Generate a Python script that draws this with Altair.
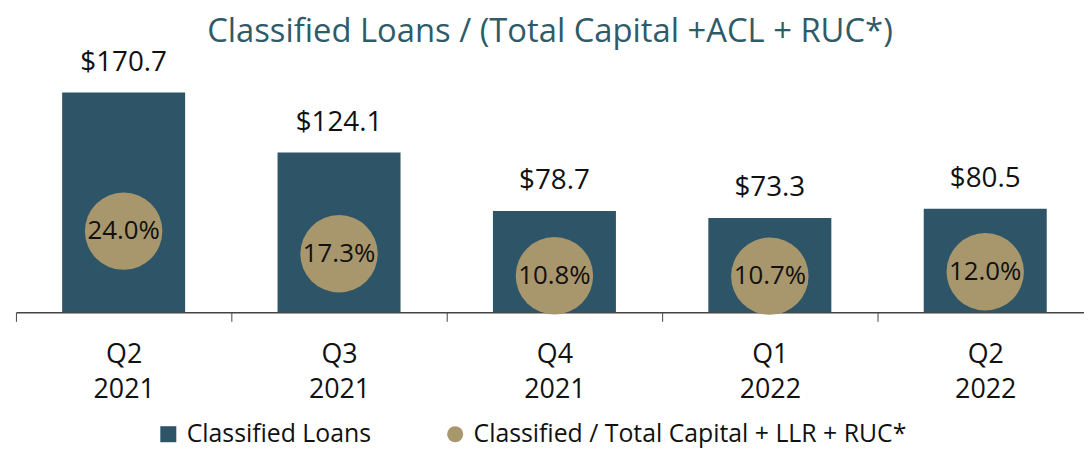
import altair as alt
import pandas as pd

quarters = ["Q2\n2021", "Q3\n2021", "Q4\n2021", "Q1\n2022", "Q2\n2022"]
loans = [170.7, 124.1, 78.7, 73.3, 80.5]
ratio = [24.0, 17.3, 10.8, 10.7, 12.0]
series_bar = "Classified Loans"
series_pt = "Classified / Total Capital + LLR + RUC*"

df = pd.DataFrame({
    "q": quarters,
    "loans": loans,
    "ratio": ratio,
    "loan_lbl": [f"${v:.1f}" for v in loans],
    "ratio_lbl": [f"{v:.1f}%" for v in ratio],
    "s1": series_bar,
    "s2": series_pt,
})

FONT = "Open Sans"
BAR = "#2D5567"
DOT = "#A8966C"

x = alt.X("q:N", sort=quarters, title=None,
          scale=alt.Scale(paddingInner=0, paddingOuter=0, range=[0, 1085]),
          axis=alt.Axis(labelExpr="split(datum.label, '\\n')", labelAngle=0,
                        labelFont=FONT, labelFontSize=27, labelColor="#111111",
                        labelPadding=20, labelLineHeight=36,
                        tickBand="extent", tickSize=9, tickColor="#444444",
                        domainColor="#444444", domainWidth=1.5, grid=False))

leg = dict(title=None, orient="none", direction="horizontal", legendX=141, legendY=363,
           labelFont=FONT, labelFontSize=25, labelColor="#111111", labelLimit=600,
           symbolSize=260, columnPadding=72, labelOffset=6)
color = alt.Color("s:N", scale=alt.Scale(domain=[series_bar, series_pt], range=[BAR, DOT]),
                  legend=alt.Legend(**leg))
shape = alt.Shape("s:N", scale=alt.Scale(domain=[series_bar, series_pt], range=["square", "circle"]),
                  legend=alt.Legend(**leg))

ybar = alt.Y("loans:Q", scale=alt.Scale(domain=[0, 195]), axis=None)
ypt = alt.Y("ratio:Q", scale=alt.Scale(domain=[0, 74.2]), axis=None)

bars = alt.Chart(df).transform_calculate(s="datum.s1").mark_bar(
    color=BAR, width=alt.RelativeBandSize(0.571)).encode(x=x, y=ybar, color=color)
bar_txt = alt.Chart(df).mark_text(font=FONT, fontSize=28, color="#111111", dy=-16,
                                  baseline="bottom").encode(x=x, y=ybar, text="loan_lbl:N")
pts = alt.Chart(df).transform_calculate(s="datum.s2").mark_point(
    filled=True, size=6084, opacity=1).encode(x=x, y=ypt, color=color, shape=shape)
pt_txt = alt.Chart(df).mark_text(font=FONT, fontSize=26, color="#111111").encode(
    x=x, y=ypt, text="ratio_lbl:N")

chart = alt.layer(bars, bar_txt, pts, pt_txt).resolve_scale(y="independent").properties(
    width=1076, height=253,
    title=alt.TitleParams("Classified Loans / (Total Capital +ACL + RUC*)", font=FONT,
                          fontSize=33, fontWeight="normal", color="#2F5B68",
                          anchor="middle", offset=0),
    autosize=alt.AutoSizeParams(type="none"),
    padding={"left": 8, "top": 52, "right": 0, "bottom": 135},
).configure_view(stroke=None)

chart.save("out.html", embed_options={"renderer": "svg", "actions": False})
